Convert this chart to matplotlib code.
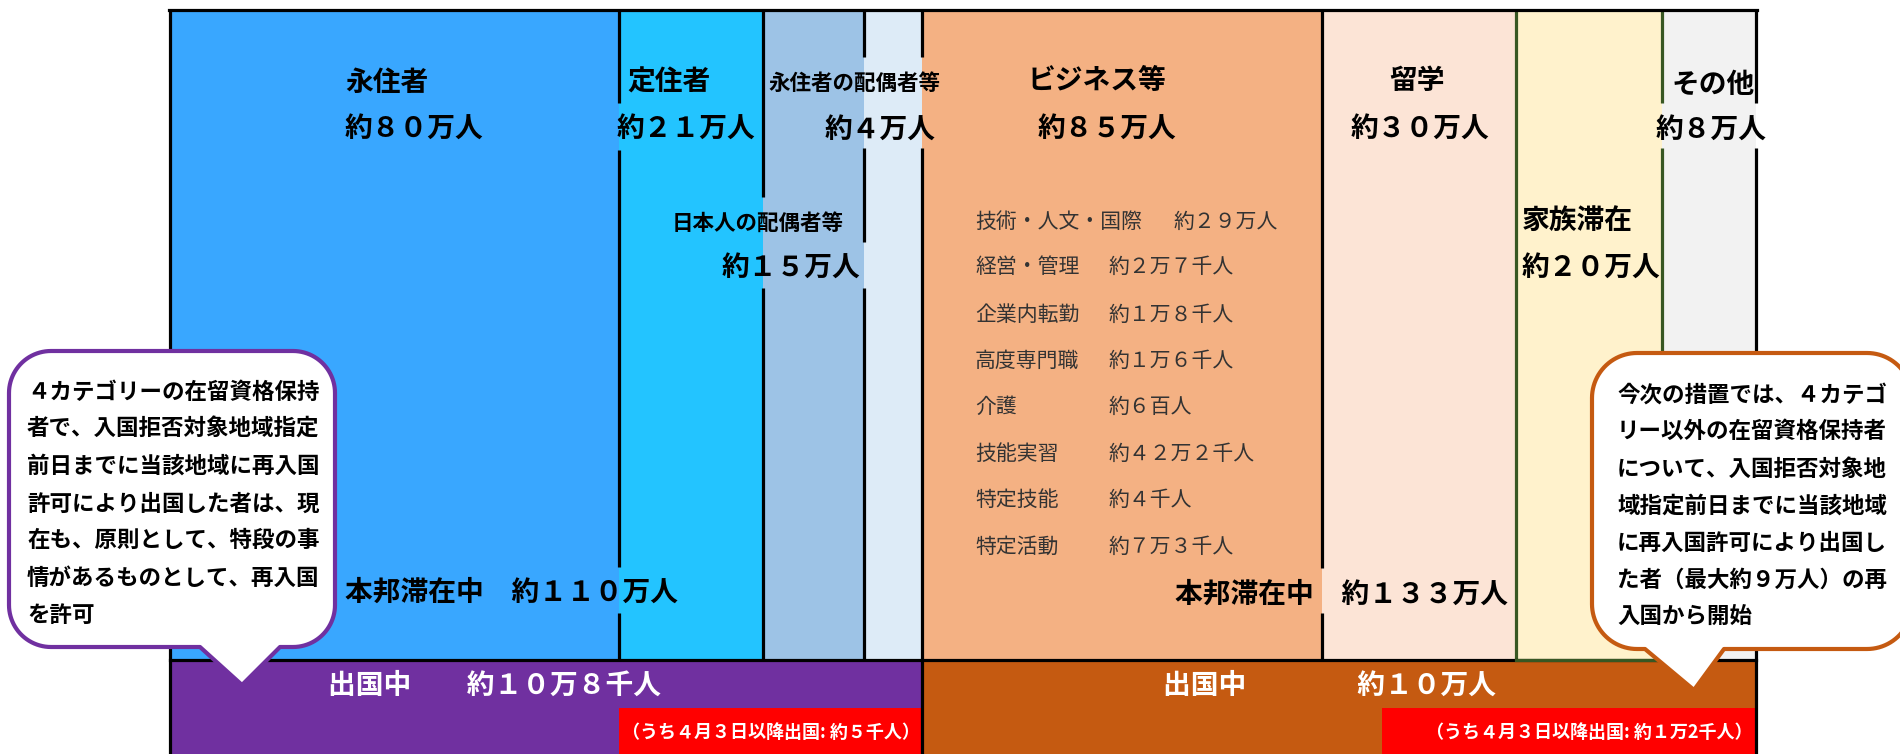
#draw the status-of-residence chart
import numpy as np
import matplotlib
matplotlib.use('Agg')
import matplotlib.pyplot as plt
from matplotlib.patches import Polygon

plt.rcParams['font.family'] = ['Noto Sans CJK JP', 'DejaVu Sans']

##########
## data ##
##########
categories = ['永住者', '定住者', '日本人の配偶者等', '永住者の配偶者等',
              'ビジネス等', '留学', '家族滞在', 'その他']
counts_man = [80, 21, 15, 4, 85, 30, 20, 8]   # 万人

business_types = ['技術・人文・国際', '経営・管理', '企業内転勤', '高度専門職',
                  '介護', '技能実習', '特定技能', '特定活動']
business_counts = ['約２９万人', '約２万７千人', '約１万８千人', '約１万６千人',
                   '約６百人', '約４２万２千人', '約４千人', '約７万３千人']

group_staying = ['約１１０万人', '約１３３万人']
group_abroad = ['約１０万８千人', '約１０万人']
group_since_apr3 = ['約５千人', '約１万2千人']

left_note = ['４カテゴリーの在留資格保持', '者で、入国拒否対象地域指定',
             '前日までに当該地域に再入国', '許可により出国した者は、現',
             '在も、原則として、特段の事', '情があるものとして、再入国', 'を許可']
right_note = ['今次の措置では、４カテゴ', 'リー以外の在留資格保持者',
              'について、入国拒否対象地', '域指定前日までに当該地域',
              'に再入国許可により出国し', 'た者（最大約９万人）の再', '入国から開始']

FW = str.maketrans('0123456789', '０１２３４５６７８９')
def man(v):
	return '約' + str(v).translate(FW) + '万人'

############
## layout ##
############
W, H = 1900, 754
top, mid, bot = 10, 660, 754
edges = [170, 619, 763, 864, 922, 1322, 1516, 1662, 1756]
cols = ['#39A7FF', '#23C4FF', '#9DC3E6', '#DDEBF7', '#F4B183', '#FCE4D6', '#FFF2CC', '#F2F2F2']
purple, brown, red, green = '#7030A0', '#C55A11', '#FF0000', '#385723'
dy = 3   # text baseline nudge

name_xy = [(345, 80), (627, 80), (672, 220), (768, 80), (1028, 78), (1389, 78), (1522, 218), (1672, 82)]
name_fs = [20, 20, 15.5, 15.5, 20, 20, 20, 20]
count_xy = [(345, 126), (617, 126), (722, 265), (825, 127), (1038, 126), (1351, 126), (1522, 265), (1656, 127)]

# gaps in the vertical rules where the text boxes sit
gaps = {170: [], 619: [(103, 150), (567, 613)], 763: [(197, 288)], 864: [(57, 148), (242, 288)],
        922: [(57, 148)], 1322: [(568, 613)], 1516: [], 1662: [(103, 148)], 1756: [(103, 148)]}
full_height = [170, 922, 1756]
green_rules = [1516, 1662]

fig = plt.figure(figsize=(19, 7.54), dpi=100)
ax = fig.add_axes([0, 0, 1, 1])
ax.set_xlim(0, W)
ax.set_ylim(H, 0)
ax.axis('off')

##############
## columns ##
##############
lefts = edges[:-1]
widths = np.diff(edges)
ax.bar(lefts, mid - top, bottom=top, width=widths, align='edge', color=cols, zorder=1)

# bottom: abroad
ax.bar([edges[0], edges[4]], bot - mid, bottom=mid, width=[edges[4] - edges[0], edges[-1] - edges[4]],
       align='edge', color=[purple, brown], zorder=1)
ax.bar([619, 1382], bot - 708, bottom=708, width=[922 - 619, 1756 - 1382], align='edge', color=red, zorder=2)

# rules
for x in edges:
	y_end = bot if x in full_height else mid
	col = green if x in green_rules else 'black'
	ys = [top]
	for g0, g1 in gaps[x]:
		ys += [g0, g1]
	ys.append(y_end)
	for i in range(0, len(ys), 2):
		ax.plot([x, x], [ys[i], ys[i + 1]], color=col, lw=2.3, solid_capstyle='butt', zorder=3)
ax.plot([edges[0] - 1, edges[-1] + 1], [top, top], color='black', lw=2.3, zorder=3)
ax.plot([edges[0], edges[-1]], [mid, mid], color='black', lw=2.3, zorder=3)
ax.plot([1516, 1662], [mid, mid], color=green, lw=2.3, zorder=3)

############
## labels ##
############
for i in range(len(categories)):
	ax.text(name_xy[i][0], name_xy[i][1] + dy, categories[i], fontsize=name_fs[i], fontweight='bold',
	        va='center', ha='left', zorder=5)
	ax.text(count_xy[i][0], count_xy[i][1] + dy, man(counts_man[i]), fontsize=20, fontweight='bold',
	        va='center', ha='left', zorder=5)

biz_y = [219, 264, 312, 358, 404, 451, 497, 544]
biz_vx = [1174, 1109, 1109, 1109, 1109, 1109, 1109, 1109]
for i in range(len(business_types)):
	ax.text(975, biz_y[i] + dy, business_types[i], fontsize=15, color='#333333', va='center', zorder=5)
	ax.text(biz_vx[i], biz_y[i] + dy, business_counts[i], fontsize=15, color='#333333', va='center', zorder=5)

ax.text(345, 590 + dy, '本邦滞在中　' + group_staying[0], fontsize=20, fontweight='bold', va='center', zorder=5)
ax.text(1175, 592 + dy, '本邦滞在中　' + group_staying[1], fontsize=20, fontweight='bold', va='center', zorder=5)
ax.text(328, 683 + dy, '出国中　　' + group_abroad[0], fontsize=20, fontweight='bold', color='white', va='center', zorder=5)
ax.text(1163, 683 + dy, '出国中　　　　' + group_abroad[1], fontsize=20, fontweight='bold', color='white', va='center', zorder=5)
ax.text(771, 730 + dy, '（うち４月３日以降出国: ' + group_since_apr3[0] + '）', fontsize=13, fontweight='bold',
        color='white', va='center', ha='center', zorder=5)
ax.text(1753, 730 + dy, '（うち４月３日以降出国: ' + group_since_apr3[1] + '）', fontsize=13, fontweight='bold',
        color='white', va='center', ha='right', zorder=5)

#############
## bubbles ##
#############
def bubble(x0, y0, x1, y1, r, bl, br, tip):
	def arc(cx, cy, a0, a1):
		t = np.radians(np.linspace(a0, a1, 24))
		return list(zip(cx + r * np.cos(t), cy + r * np.sin(t)))
	pts = [(br, y1)]
	pts += arc(x1 - r, y1 - r, 90, 0)
	pts += arc(x1 - r, y0 + r, 0, -90)
	pts += arc(x0 + r, y0 + r, -90, -180)
	pts += arc(x0 + r, y1 - r, 180, 90)
	pts += [(bl, y1), tip]
	return pts

lb = Polygon(bubble(9, 351, 335, 647, 42, 200, 280, (242, 685)), closed=True,
             facecolor='white', edgecolor=purple, lw=3, joinstyle='round', zorder=6)
rb = Polygon(bubble(1592, 353, 1912, 649, 45, 1645, 1724, (1694, 690)), closed=True,
             facecolor='white', edgecolor=brown, lw=3, joinstyle='round', zorder=6)
ax.add_patch(lb)
ax.add_patch(rb)

ly = [389, 426, 463, 501, 537, 575, 612]
ry = [392, 428, 466, 503, 540, 577, 614]
for i in range(len(left_note)):
	ax.text(27, ly[i] + dy, left_note[i], fontsize=16.2, fontweight='bold', va='center', zorder=7)
for i in range(len(right_note)):
	ax.text(1617, ry[i] + dy, right_note[i], fontsize=16.2, fontweight='bold', va='center', zorder=7)

plt.savefig('out.png', dpi=100)
plt.close()
